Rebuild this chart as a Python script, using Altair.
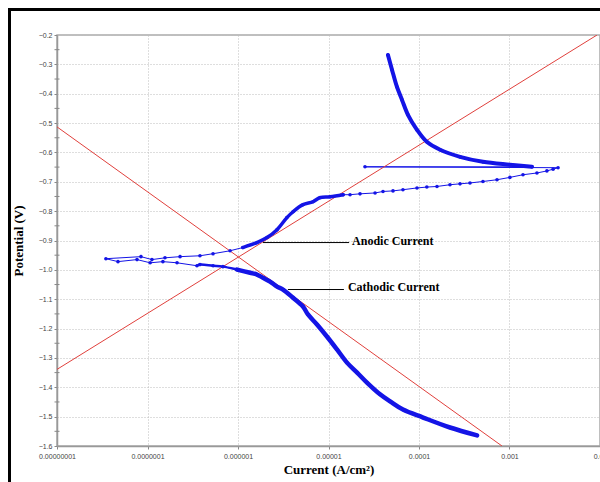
import altair as alt
import pandas as pd

# ---- data (current in A/cm^2, potential in V) ----
cathodic_current = [4.38e-4, 2.20e-4, 1.11e-4, 6.65e-5, 4.79e-5, 3.71e-5, 2.66e-5, 2.07e-5,
                    1.60e-5, 1.24e-5, 9.6e-6, 7.46e-6, 5.93e-6, 5.22e-6, 4.06e-6, 3.14e-6,
                    2.70e-6, 2.26e-6, 1.89e-6, 1.62e-6, 1.36e-6, 9.75e-7, 6.82e-7, 5.30e-7,
                    3.80e-7, 3.52e-7, 2.12e-7, 1.48e-7, 1.07e-7, 7.66e-8, 4.72e-8]
cathodic_potential = [-1.564, -1.537, -1.503, -1.476, -1.448, -1.424, -1.384, -1.350,
                      -1.316, -1.271, -1.227, -1.186, -1.152, -1.125, -1.095, -1.067,
                      -1.057, -1.040, -1.027, -1.016, -1.010, -0.999, -0.989, -0.986,
                      -0.982, -0.986, -0.976, -0.972, -0.976, -0.965, -0.972]

anodic_current = [3.47e-8, 8.47e-8, 1.12e-7, 1.56e-7, 2.29e-7, 3.80e-7, 5.30e-7, 8.17e-7,
                  1.13e-6, 1.62e-6, 2.09e-6, 2.70e-6, 3.47e-6, 4.06e-6, 5.22e-6, 6.74e-6,
                  8.05e-6, 1.04e-5, 1.45e-5, 1.73e-5, 2.23e-5, 3.27e-5, 4.00e-5, 5.16e-5,
                  6.65e-5, 9.5e-5, 1.22e-4, 1.58e-4, 2.20e-4, 2.84e-4, 3.66e-4, 5.09e-4,
                  7.28e-4, 1.01e-3, 1.41e-3, 2.01e-3, 2.59e-3, 3.03e-3, 3.44e-3]
anodic_potential = [-0.962, -0.955, -0.965, -0.959, -0.955, -0.952, -0.945, -0.935,
                    -0.924, -0.907, -0.890, -0.863, -0.822, -0.802, -0.778, -0.768,
                    -0.754, -0.751, -0.744, -0.744, -0.741, -0.738, -0.733, -0.731,
                    -0.727, -0.721, -0.718, -0.716, -0.710, -0.707, -0.704, -0.699,
                    -0.693, -0.685, -0.676, -0.670, -0.663, -0.657, -0.652]

reverse_current = [2.53e-5, 1.77e-3, 1.01e-3, 5.09e-4, 2.84e-4, 1.71e-4, 1.22e-4, 9.5e-5,
                   7.55e-5, 6.49e-5, 5.71e-5, 5.04e-5, 4.54e-5]
reverse_potential = [-0.649, -0.649, -0.642, -0.632, -0.615, -0.591, -0.564, -0.523,
                     -0.472, -0.421, -0.377, -0.319, -0.268]

# Tafel extrapolation lines (two end points each)
tafel_cathodic_current = [1e-8, 8.26e-4]
tafel_cathodic_potential = [-0.513, -1.600]
tafel_anodic_current = [1e-8, 9.27e-3]
tafel_anodic_potential = [-1.339, -0.200]

# annotations
label_text = ["Anodic Current", "Cathodic Current"]
label_current = [1.82e-5, 1.64e-5]
label_potential = [-0.902, -1.058]
leader_start_current = [1.89e-6, 3.56e-6]
leader_end_current = [1.69e-5, 1.48e-5]
leader_potential = [-0.907, -1.067]

x_ticks = [1e-8, 1e-7, 1e-6, 1e-5, 1e-4, 1e-3, 1e-2]
y_ticks = [-1.6, -1.5, -1.4, -1.3, -1.2, -1.1, -1.0, -0.9, -0.8, -0.7, -0.6, -0.5, -0.4, -0.3, -0.2]
y_minor = [-1.55, -1.45, -1.35, -1.25, -1.15, -1.05, -0.95, -0.85, -0.75, -0.65, -0.55, -0.45, -0.35, -0.25]

# ---- tables ----
curve_I = cathodic_current + anodic_current + reverse_current
curve_V = cathodic_potential + anodic_potential + reverse_potential
curve = pd.DataFrame({"I": curve_I, "V": curve_V, "k": range(len(curve_I))})

def seg(cur, pot):
    return pd.DataFrame({"I": cur, "V": pot, "k": range(len(cur))})

thick_cath = seg(cathodic_current[0:22], cathodic_potential[0:22])
mid_cath = seg(cathodic_current[20:26], cathodic_potential[20:26])
thick_an = seg(anodic_current[8:19], anodic_potential[8:19])
thick_rev = seg(reverse_current[1:], reverse_potential[1:])

tafel = pd.DataFrame({
    "I": tafel_cathodic_current + tafel_anodic_current,
    "V": tafel_cathodic_potential + tafel_anodic_potential,
    "line": ["c", "c", "a", "a"],
})
labels = pd.DataFrame({"t": label_text, "I": label_current, "V": label_potential})
leaders = pd.DataFrame({"I": leader_start_current, "I2": leader_end_current, "V": leader_potential})
minor = pd.DataFrame({"V": y_minor})

BLUE = "#1414e6"
xs = alt.Scale(type="log", domain=[1e-8, 1e-2], nice=False)
ys = alt.Scale(domain=[-1.6, -0.2], nice=False, zero=False)

x_axis = alt.Axis(values=x_ticks, format=".8~f", title="Current (A/cm²)",
                  labelFlush=False, labelOverlap=False, labelPadding=3,
                  titlePadding=4)
y_axis = alt.Axis(values=y_ticks, tickCount=15,
                  labelExpr="format(datum.value, '.1f')", title="Potential (V)",
                  labelPadding=2, labelOverlap=False, labelFlush=False,
                  labelSeparation=0, labelBound=False,
                  titlePadding=13)

X = alt.X("I:Q", scale=xs, axis=x_axis)
Y = alt.Y("V:Q", scale=ys, axis=y_axis)

base_line = alt.Chart(curve).mark_line(color=BLUE, strokeWidth=1, clip=True).encode(
    x=X, y=Y, order="k:Q")
pts = alt.Chart(curve).mark_circle(color=BLUE, size=13, opacity=1, clip=True).encode(
    x=alt.X("I:Q", scale=xs), y=alt.Y("V:Q", scale=ys))

def thick(df, w):
    return alt.Chart(df).mark_line(color=BLUE, strokeWidth=w, clip=True,
                                   interpolate="catmull-rom",
                                   strokeCap="round", strokeJoin="round").encode(
        x=alt.X("I:Q", scale=xs), y=alt.Y("V:Q", scale=ys), order="k:Q")

tafel_lines = alt.Chart(tafel).mark_line(color="#e0403c", strokeWidth=1, clip=True).encode(
    x=alt.X("I:Q", scale=xs), y=alt.Y("V:Q", scale=ys), detail="line:N")

leader_rules = alt.Chart(leaders).mark_rule(color="#000", strokeWidth=1).encode(
    x=alt.X("I:Q", scale=xs), x2="I2:Q", y=alt.Y("V:Q", scale=ys))
label_marks = alt.Chart(labels).mark_text(align="left", baseline="middle",
                                          font="Liberation Serif", fontWeight="bold",
                                          fontSize=12, color="#000").encode(
    x=alt.X("I:Q", scale=xs), y=alt.Y("V:Q", scale=ys), text="t:N")

# minor ticks on the potential axis
minor_ticks = alt.Chart(minor).mark_rule(color="#888", strokeWidth=1).encode(
    y=alt.Y("V:Q", scale=ys), x=alt.value(-2.5), x2=alt.value(2.5))

frame_left = alt.Chart(minor).mark_rule(color="#000", strokeWidth=3).encode(
    x=alt.value(-47.5), y=alt.value(-27), y2=alt.value(470))
frame_top = alt.Chart(minor).mark_rule(color="#000", strokeWidth=3).encode(
    x=alt.value(-49), x2=alt.value(560), y=alt.value(-25.5))

chart = alt.layer(base_line, tafel_lines, thick(mid_cath, 2.5), thick(thick_cath, 4.5),
                  thick(thick_an, 3.5), thick(thick_rev, 4), pts, leader_rules, label_marks,
                  minor_ticks, frame_left, frame_top).properties(
    width=543, height=411,
    autosize=alt.AutoSizeParams(type="none"),
    padding={"left": 57, "top": 35, "right": 0, "bottom": 36},
    background="white",
).configure_view(stroke="#aaa", strokeWidth=1.5).configure_axis(
    labelFont="Liberation Sans", labelFontSize=7, labelColor="#444",
    grid=True, gridDash=[1, 2], gridColor="#bdbdbd",
    tickSize=3, tickColor="#888", domainColor="#999", domainWidth=1.5,
    titleFont="Liberation Serif", titleFontWeight="bold", titleFontSize=13,
    titleColor="#000", labelOverlap=False,
)

chart.save("out.html", embed_options={"renderer": "svg", "actions": False})
